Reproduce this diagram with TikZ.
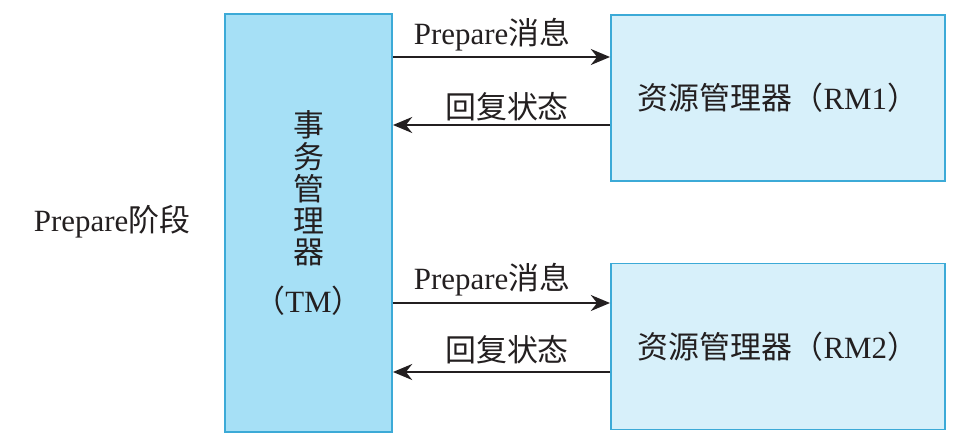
\documentclass[tikz,border=0pt]{standalone}
\usepackage{fontspec}
\setmainfont{Liberation Serif}
\newfontfamily\cjk{Noto Sans CJK SC}
\usetikzlibrary{arrows.meta}
\definecolor{tmfill}{RGB}{166,224,246}
\definecolor{rmfill}{RGB}{215,240,250}
\definecolor{boxline}{RGB}{60,170,215}
\definecolor{ink}{RGB}{35,31,32}
\tikzset{
  tmbox/.style = {draw = boxline, line width = 1.4pt, fill = tmfill, minimum width = 4.175cm, minimum height = 10.45cm, inner sep = 0pt},
  rmbox/.style = {draw = boxline, line width = 1.4pt, fill = rmfill, minimum width = 8.35cm, minimum height = 4.15cm, inner sep = 0pt},
  txt/.style = {text = ink, font = \fontsize{22}{22.7}\selectfont, inner sep = 0pt},
  msg/.style = {draw = ink, line width = 1.4pt, -{Stealth[length = 0.48cm, width = 0.4cm]}}
}
\begin{document}
\begin{tikzpicture} [scale = 1]
\useasboundingbox (0.0, 0.0) rectangle (24.45, 11.075);
\node[tmbox] (tm) at (7.7125, 5.5){};
\node[rmbox] (rm1) at (19.45, 8.625){};
\node[rmbox] (rm2) at (19.45, 2.4125){};
\node[txt, align = center] (tmtext) at (7.7125, 5.75){{\cjk 事}\\{\cjk 务}\\{\cjk 管}\\{\cjk 理}\\{\cjk 器}\\[0.42cm]{\cjk （}TM{\cjk ）}};
\node[txt] (rm1text) at (19.45, 8.625){{\cjk 资源管理器（}RM1{\cjk ）}};
\node[txt] (rm2text) at (19.45, 2.4125){{\cjk 资源管理器（}RM2{\cjk ）}};
\node[txt] (phase) at (2.8, 5.525){Prepare{\cjk 阶段}};
\coordinate (p1) at (rm1.west |- 0, 9.65);
\coordinate (r1) at (rm1.west |- 0, 7.95);
\coordinate (p2) at (rm2.west |- 0, 3.5);
\coordinate (r2) at (rm2.west |- 0, 1.775);
\draw[msg] (tm.east |- p1) -- (p1);
\draw[msg] (r1) -- (tm.east |- r1);
\draw[msg] (tm.east |- p2) -- (p2);
\draw[msg] (r2) -- (tm.east |- r2);
\node[txt] (prep1) at (12.3, 10.2){Prepare{\cjk 消息}};
\node[txt] (rep1) at (12.675, 8.4){\cjk 回复状态};
\node[txt] (prep2) at (12.3, 4.075){Prepare{\cjk 消息}};
\node[txt] (rep2) at (12.675, 2.325){\cjk 回复状态};
\end{tikzpicture}
\end{document}
